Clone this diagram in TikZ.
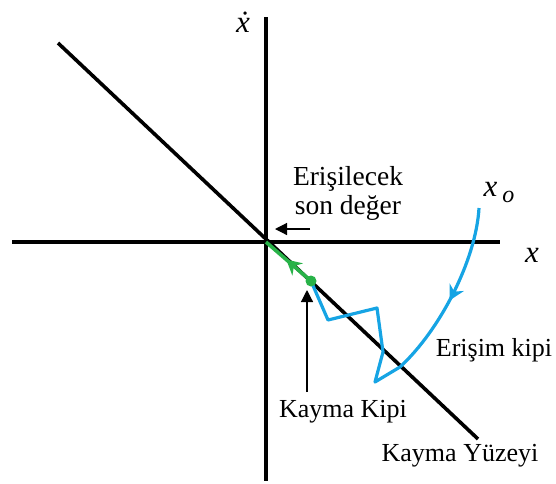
\documentclass[tikz,border=0pt]{standalone}
\usepackage{fontspec}
\setmainfont{Liberation Serif}
\usetikzlibrary{arrows.meta,decorations.markings}
\definecolor{reachblue}{RGB}{22,164,228}
\definecolor{slidegreen}{RGB}{40,178,72}
\tikzset{
  axis/.style={draw=black, line width=4pt},
  surface/.style={draw=black, line width=3.6pt},
  reachpath/.style={draw=reachblue, line width=3.2pt, line join=round},
  slidepath/.style={draw=slidegreen, line width=3.6pt},
  lbl/.style={font=\rmfamily\fontsize{26}{29}\selectfont, inner sep=0pt, align=center},
  mlbl/.style={font=\rmfamily\fontsize{31}{34}\selectfont\itshape, inner sep=0pt},
  pointer/.style={draw=black, line width=1.2pt, -{Triangle[length=12pt,width=12pt]}},
  flowtip/.style={postaction={decorate}, decoration={markings,
    mark=at position #1 with {\arrow{Stealth[length=15pt,width=16pt]}}}}
}
\begin{document}
\begin{tikzpicture}[x=1pt, y=-1pt]
  \useasboundingbox (0,0) rectangle (556,483);
  % axes and sliding surface
  \coordinate (O) at (266,242);
  \coordinate (xl) at (12,242);
  \coordinate (xr) at (500,242);
  \coordinate (yt) at (266,17);
  \coordinate (yb) at (266,481);
  \coordinate (sl) at (58,43);
  \coordinate (sr) at (478,439);
  \draw[axis] (xl) -- (xr);
  \draw[axis] (yt) -- (yb);
  \draw[surface] (sl) -- (sr);

  % reaching phase
  \coordinate (x0) at (479,208);
  \coordinate (r1) at (400,367);
  \coordinate (r2) at (375,382);
  \coordinate (r3) at (383,352);
  \coordinate (r4) at (377,308);
  \coordinate (r5) at (328,320);
  \coordinate (hit) at (311,281);
  \draw[reachpath, flowtip=0.54] (x0) .. controls (476,260) and (440,330) .. (r1);
  \draw[reachpath] (r1) -- (r2) -- (r3) -- (r4) -- (r5) -- (hit);

  % sliding phase
  \draw[slidepath, flowtip=0.55] (hit) -- (O);
  \fill[slidegreen] (hit) circle (5.5pt);

  % labels
  \node[mlbl] (xdot) at (243,22) {\.x};
  \node[mlbl] (xlab) at (532,255) {x};
  \node[mlbl] (x0lab) at (499,192) {x\,\raisebox{-6pt}{\fontsize{24}{26}\selectfont o}};
  \node[lbl, font=\rmfamily\fontsize{27.5}{29}\selectfont] (goal) at (348,193) {Erişilecek\\son değer};
  \node[lbl] (reach) at (494,350) {Erişim kipi};
  \node[lbl] (slide) at (343,412) {Kayma Kipi};
  \node[lbl] (surf) at (460,456) {Kayma Yüzeyi};

  \coordinate (gs) at (310,229);
  \coordinate (ge) at (275,229);
  \draw[pointer] (gs) -- (ge);
  \coordinate (ks) at (307,392);
  \coordinate (ke) at (307,290);
  \draw[pointer] (ks) -- (ke);
\end{tikzpicture}
\end{document}
